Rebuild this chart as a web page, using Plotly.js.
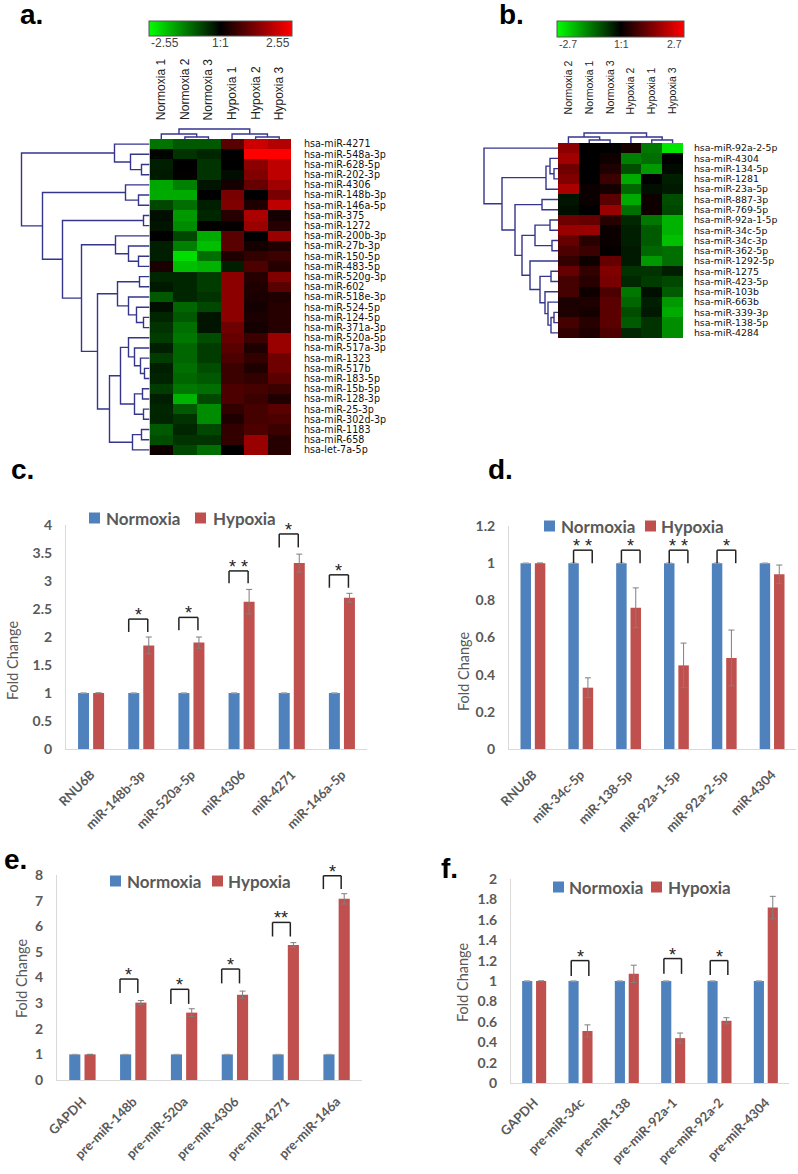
<!DOCTYPE html>
<html><head><meta charset="utf-8">
<script src="https://cdn.plot.ly/plotly-3.0.1.min.js"></script>
<style>html,body{margin:0;padding:0;background:#fff}#chart{width:798px;height:1174px}</style>
</head><body><div id="chart"></div>
<script>
const W=798,H=1174;
// ---------- Heatmap a ----------
const colsA=['Normoxia 1','Normoxia 2','Normoxia 3','Hypoxia 1','Hypoxia 2','Hypoxia 3'];
const rowsA=['hsa-miR-4271','hsa-miR-548a-3p','hsa-miR-628-5p','hsa-miR-202-3p','hsa-miR-4306','hsa-miR-148b-3p','hsa-miR-146a-5p','hsa-miR-375','hsa-miR-1272','hsa-miR-200b-3p','hsa-miR-27b-3p','hsa-miR-150-5p','hsa-miR-483-5p','hsa-miR-520g-3p','hsa-miR-602','hsa-miR-518e-3p','hsa-miR-524-5p','hsa-miR-124-5p','hsa-miR-371a-3p','hsa-miR-520a-5p','hsa-miR-517a-3p','hsa-miR-1323','hsa-miR-517b','hsa-miR-183-5p','hsa-miR-15b-5p','hsa-miR-128-3p','hsa-miR-25-3p','hsa-miR-302d-3p','hsa-miR-1183','hsa-miR-658','hsa-let-7a-5p'];
const zA=[
[-1.15,-0.89,-0.89,0.89,2.04,1.79],
[-0.05,-0.51,-0.38,0,2.55,2.55],
[-0.31,0,-0.51,0,1.4,1.91],
[-0.26,0.05,-0.51,-0.13,1.28,1.91],
[-1.66,-1.28,-0.2,0.2,1.02,1.61],
[-1.71,-1.71,0,1.2,0,1.2],
[-0.71,-1.1,-0.31,1.28,0.31,1.91],
[-0.15,-1.53,-0.38,0.38,1.71,0.2],
[-0.2,-1.4,0,0.05,1.53,0.38],
[0,-0.71,-1.71,0.89,0,1.53],
[-0.31,-1.28,-1.91,0.89,0.2,0.31],
[-0.31,-2.22,-1.1,0.31,0.51,0.59],
[0.26,-1.91,-1.79,-0.31,0.77,0.38],
[-0.38,-0.38,-0.59,1.4,0.38,1.28],
[-0.26,-0.38,-0.59,1.4,0.31,0.89],
[-0.89,-0.38,-0.51,1.4,0.26,0.31],
[-0.15,-1.02,-0.71,1.4,0.2,0.38],
[-0.38,-0.89,-0.2,1.4,0.26,0.38],
[-0.51,-1.1,-0.2,1.1,0.2,0.38],
[-0.59,-1.2,-0.77,1.02,0.59,1.53],
[-0.31,-1.02,-0.59,0.89,0.31,1.53],
[-0.59,-1.02,-0.59,0.77,0.51,1.1],
[-0.31,-1.1,-0.77,0.59,0.31,1.1],
[-0.36,-1.02,-0.89,0.59,0.51,0.89],
[-0.59,-1.2,-1.1,0.77,0.69,0.59],
[-0.31,-1.79,-0.71,0.77,0.59,0.31],
[-0.38,-0.89,-1.4,0.51,0.69,0.89],
[-0.36,-0.51,-1.4,0.31,0.69,0.77],
[-0.89,-0.38,-0.71,0.51,0.77,0.59],
[-0.77,-0.51,-0.51,0.51,1.53,0.38],
[0.15,-0.71,-1.1,0,1.53,0.38]];
const rangeA=2.55;
// dendrograms: [height, left, right]; leaves are row/column indices
const rowTreeA=[128,[35,0,[19,1,[8,2,3]]],[107,[24,4,[11,5,6]],[87,[6,7,8],[68,[34,9,[21,10,[11,11,12]]],[52,[32,[10,13,14],[21,15,[13,16,[6,17,18]]]],[40,[29,[21,19,[15,20,[9,21,[5,22,23]]]],[15,[7,24,25],[6,26,27]]],[17,[8,28,29],30]]]]]]];
const colTreeA=[10,[5,0,[2,1,2]],[5,3,[2,4,5]]];

// ---------- Heatmap b ----------
const colsB=['Normoxia 2','Normoxia 1','Normoxia 3','Hypoxia 2','Hypoxia 1','Hypoxia 3'];
const rowsB=['hsa-miR-92a-2-5p','hsa-miR-4304','hsa-miR-134-5p','hsa-miR-1281','hsa-miR-23a-5p','hsa-miR-887-3p','hsa-miR-769-5p','hsa-miR-92a-1-5p','hsa-miR-34c-5p','hsa-miR-34c-3p','hsa-miR-362-5p','hsa-miR-1292-5p','hsa-miR-1275','hsa-miR-423-5p','hsa-miR-103b','hsa-miR-663b','hsa-miR-339-3p','hsa-miR-138-5p','hsa-miR-4284'];
const zB=[
[1.49,0,0,0.22,-1.27,-2.43],
[1.7,0,0.16,-1.35,-1.16,0],
[1.16,0,0.32,-0.81,-1.62,-0.11],
[1.35,0,0.62,-1.81,0,-0.32],
[1.81,0.11,0.22,-1.08,-0.16,-0.27],
[-0.22,0.11,0.95,-1.81,0.16,-0.81],
[-0.16,0,1.62,-1.16,0.16,-0.76],
[1.16,1.08,0.41,-0.41,-1.27,-1.89],
[1.62,1.62,0.11,-0.32,-0.95,-1.89],
[1.08,0.41,0.11,-0.32,-0.95,-2.03],
[0.81,0.62,0.05,-0.27,-1.08,-1.16],
[0.54,0.16,1.08,-0.27,-1.62,-1.16],
[1.08,0.54,1.35,-0.54,-0.54,-0.32],
[0.73,0.41,1.27,-0.41,-0.62,-0.76],
[0.73,0.16,0.81,-1.27,-0.16,-0.95],
[0.27,0.32,0.95,-1.08,-0.32,-1.62],
[0.32,0.22,0.95,-0.81,-0.27,-1.81],
[0.73,0.41,0.95,-0.95,-0.54,-1.49],
[0.54,0.32,0.81,-0.41,-0.54,-1.49]];
const rangeB=2.7;
const rowTreeB=[74,0,[56,[12,[8,1,[4,2,3]],4],[43,[16,5,6],[36,[23,[8,7,8],[6,9,10]],[28,11,[18,[7,12,13],[13,14,[10,15,[7,[4,16,17],18]]]]]]]]];
const colTreeB=[10,[6,0,[3,1,2]],[6,3,[3,4,5]]];

// ---------- Bar charts ----------
const catsC=['RNU6B','miR-148b-3p','miR-520a-5p','miR-4306','miR-4271','miR-146a-5p'];
const normC=[1,1,1,1,1,1];
const hypC=[1,1.85,1.9,2.63,3.32,2.7];
const hypErrC=[0,0.15,0.1,0.22,0.16,0.08];
const sigC=[[1,2.09,2.32,2.09,'*'],[2,2.12,2.35,2.12,'*'],[3,2.96,3.18,2.96,'* *'],[4,3.6,3.84,3.6,'*'],[5,2.88,3.11,2.88,'*']];

const catsD=['RNU6B','miR-34c-5p','miR-138-5p','miR-92a-1-5p','miR-92a-2-5p','miR-4304'];
const normD=[1,1,1,1,1,1];
const hypD=[1,0.33,0.76,0.45,0.49,0.94];
const hypErrD=[0,0.053,0.107,0.12,0.15,0.05];
const sigD=[[1,1.0,1.07,1.0,'* *'],[2,1.0,1.07,1.0,'*'],[3,1.0,1.07,1.0,'* *'],[4,1.0,1.07,1.0,'*']];

const catsE=['GAPDH','pre-miR-148b','pre-miR-520a','pre-miR-4306','pre-miR-4271','pre-miR-146a'];
const normE=[1,1,1,1,1,1];
const hypE=[1,3.02,2.63,3.33,5.27,7.07];
const hypErrE=[0,0.08,0.15,0.14,0.09,0.2];
const sigE=[[1,3.4,3.94,3.4,'*'],[2,2.97,3.54,2.97,'*'],[3,3.77,4.33,3.77,'*'],[4,5.6,6.15,5.6,'**'],[5,7.45,7.97,7.45,'*']];

const catsF=['GAPDH','pre-miR-34c','pre-miR-138','pre-miR-92a-1','pre-miR-92a-2','pre-miR-4304'];
const normF=[1,1,1,1,1,1];
const hypF=[1,0.51,1.07,0.44,0.61,1.72];
const hypErrF=[0,0.06,0.085,0.05,0.03,0.11];
const sigF=[[1,1.05,1.2,1.05,'*'],[3,1.07,1.22,1.07,'*'],[4,1.06,1.2,1.06,'*']];

// ---------- helpers ----------
const dx=(a,b)=>[a/W,b/W];
const dy=(t,b)=>[1-b/H,1-t/H];
const px=p=>p/W, py=p=>1-p/H;
const BLUE='#4f81bd', RED='#c0504d', GREY='#595959', DEND='#35358e';
const CS=[[0,'rgb(0,255,0)'],[0.5,'rgb(0,0,0)'],[1,'rgb(255,0,0)']];
function dendro(tree){
  const P=[],Hh=[];
  (function walk(n){
    if(typeof n==='number') return {p:n,h:0};
    const a=walk(n[1]), b=walk(n[2]), h=n[0];
    P.push(a.p,a.p,b.p,b.p,null); Hh.push(a.h,h,h,b.h,null);
    return {p:(a.p+b.p)/2,h:h};
  })(tree);
  return {p:P,h:Hh};
}
const traces=[], shapes=[], annotations=[];
const layout={width:W,height:H,margin:{l:0,r:0,t:0,b:0},paper_bgcolor:'#fff',plot_bgcolor:'rgba(0,0,0,0)',
  showlegend:false,barmode:'group',bargap:0.4,bargroupgap:0.27,font:{family:'Liberation Sans, Arial, sans-serif'}};
const hidden={showgrid:false,zeroline:false,showline:false,showticklabels:false,ticks:'',fixedrange:true};

// heatmap a
traces.push({type:'heatmap',z:zA,x:colsA,y:rowsA,xaxis:'x',yaxis:'y',zmin:-rangeA,zmax:rangeA,colorscale:CS,hoverinfo:'skip',
  colorbar:{orientation:'h',x:px(220.5),xanchor:'center',y:py(21),yanchor:'top',len:143,lenmode:'pixels',thickness:15,thicknessmode:'pixels',
    outlinewidth:1,outlinecolor:'#555',showticklabels:false,ticks:'',xpad:0,ypad:0}});
layout.xaxis=Object.assign({},hidden,{domain:dx(149.5,291),anchor:'y',type:'category',range:[-0.5,5.5]});
layout.yaxis=Object.assign({},hidden,{domain:dy(139,455),anchor:'x',type:'category',range:[30.5,-0.5],side:'right',showticklabels:true,
  tickmode:'linear',dtick:1,tick0:0,ticks:'outside',ticklen:10,tickcolor:'rgba(0,0,0,0)',tickfont:{family:'DejaVu Sans',size:9.6,color:'#111'}});
let d=dendro(rowTreeA);
traces.push({type:'scatter',mode:'lines',x:d.h,y:d.p,xaxis:'x2',yaxis:'y2',line:{color:DEND,width:1.4},hoverinfo:'skip'});
layout.xaxis2=Object.assign({},hidden,{domain:dx(0,149.5),anchor:'y2',range:[149.5,0]});
layout.yaxis2=Object.assign({},hidden,{domain:dy(139,455),anchor:'x2',range:[30.5,-0.5]});
d=dendro(colTreeA);
traces.push({type:'scatter',mode:'lines',x:d.p,y:d.h,xaxis:'x3',yaxis:'y3',line:{color:DEND,width:1.4},hoverinfo:'skip'});
layout.xaxis3=Object.assign({},hidden,{domain:dx(149.5,291),anchor:'y3',range:[-0.5,5.5]});
layout.yaxis3=Object.assign({},hidden,{domain:dy(125,139),anchor:'x3',range:[0,14]});
colsA.forEach((c,i)=>annotations.push({xref:'x',yref:'paper',x:i,y:py(122),xanchor:'center',yanchor:'bottom',textangle:-90,text:c,showarrow:false,
  font:{family:'Liberation Sans',size:12,color:'#222'}}));
[['-2.55',149,'left'],['1:1',220,'center'],['2.55',292,'right']].forEach(t=>annotations.push({xref:'paper',yref:'paper',x:px(t[1]),y:py(43),
  xanchor:t[2],yanchor:'middle',text:t[0],showarrow:false,font:{family:'Liberation Sans',size:12,color:'#444'}}));

// heatmap b
traces.push({type:'heatmap',z:zB,x:colsB,y:rowsB,xaxis:'x4',yaxis:'y4',zmin:-rangeB,zmax:rangeB,colorscale:CS,hoverinfo:'skip',
  colorbar:{orientation:'h',x:px(620.5),xanchor:'center',y:py(21),yanchor:'top',len:127,lenmode:'pixels',thickness:16,thicknessmode:'pixels',
    outlinewidth:1,outlinecolor:'#555',showticklabels:false,ticks:'',xpad:0,ypad:0}});
layout.xaxis4=Object.assign({},hidden,{domain:dx(558,683),anchor:'y4',type:'category',range:[-0.5,5.5]});
layout.yaxis4=Object.assign({},hidden,{domain:dy(143,338),anchor:'x4',type:'category',range:[18.5,-0.5],side:'right',showticklabels:true,
  tickmode:'linear',dtick:1,tick0:0,ticks:'outside',ticklen:8,tickcolor:'rgba(0,0,0,0)',tickfont:{family:'DejaVu Sans',size:9.4,color:'#111'}});
d=dendro(rowTreeB);
traces.push({type:'scatter',mode:'lines',x:d.h,y:d.p,xaxis:'x5',yaxis:'y5',line:{color:DEND,width:1.4},hoverinfo:'skip'});
layout.xaxis5=Object.assign({},hidden,{domain:dx(470,558),anchor:'y5',range:[88,0]});
layout.yaxis5=Object.assign({},hidden,{domain:dy(143,338),anchor:'x5',range:[18.5,-0.5]});
d=dendro(colTreeB);
traces.push({type:'scatter',mode:'lines',x:d.p,y:d.h,xaxis:'x6',yaxis:'y6',line:{color:DEND,width:1.4},hoverinfo:'skip'});
layout.xaxis6=Object.assign({},hidden,{domain:dx(558,683),anchor:'y6',range:[-0.5,5.5]});
layout.yaxis6=Object.assign({},hidden,{domain:dy(129,143),anchor:'x6',range:[0,14]});
colsB.forEach((c,i)=>annotations.push({xref:'x4',yref:'paper',x:i,y:py(116),xanchor:'center',yanchor:'bottom',textangle:-90,text:c,showarrow:false,
  font:{family:'Liberation Sans',size:10.5,color:'#222'}}));
[['-2.7',557,'left'],['1:1',621,'center'],['2.7',684,'right']].forEach(t=>annotations.push({xref:'paper',yref:'paper',x:px(t[1]),y:py(44),
  xanchor:t[2],yanchor:'middle',text:t[0],showarrow:false,font:{family:'Liberation Sans',size:10.5,color:'#444'}}));

// bar panels
function barPanel(n,cats,norm,hyp,hypErr,sig,xd,yd,range,dtick,off,leg,title,tl){
  const xa='x'+n, ya='y'+n;
  traces.push({type:'bar',name:'Normoxia',x:cats,y:norm,xaxis:xa,yaxis:ya,marker:{color:BLUE},hoverinfo:'skip',
    error_y:{type:'data',array:norm.map(()=>0),color:'#a0a0a0',thickness:1,width:3}});
  traces.push({type:'bar',name:'Hypoxia',x:cats,y:hyp,xaxis:xa,yaxis:ya,marker:{color:RED},hoverinfo:'skip',
    error_y:{type:'data',array:hypErr,color:'#7f7f7f',thickness:1,width:3}});
  layout['xaxis'+n]={domain:dx(xd[0],xd[1]),anchor:ya,type:'category',showline:true,linecolor:'#d9d9d9',linewidth:1,showgrid:false,
    tickangle:-45,ticks:'outside',ticklen:tl,tickcolor:'rgba(0,0,0,0)',fixedrange:true,
    tickfont:{family:'Lato',size:13,color:GREY,weight:'bold'}};
  layout['yaxis'+n]={domain:dy(yd[0],yd[1]),anchor:xa,range:range,dtick:dtick,showline:true,linecolor:'#d9d9d9',linewidth:1,
    showgrid:false,zeroline:false,ticks:'outside',ticklen:10,tickcolor:'rgba(0,0,0,0)',fixedrange:true,
    tickfont:{family:'Lato',size:14,color:GREY,weight:'bold'}};
  sig.forEach(s=>{
    const xl=s[0]+off[0], xr=s[0]+off[1];
    const ln={type:'line',xref:xa,yref:ya,line:{color:'#222',width:1.5}};
    shapes.push(Object.assign({},ln,{x0:xl,x1:xl,y0:s[1],y1:s[2]}));
    shapes.push(Object.assign({},ln,{x0:xl,x1:xr,y0:s[2],y1:s[2]}));
    shapes.push(Object.assign({},ln,{x0:xr,x1:xr,y0:s[2],y1:s[3]}));
    annotations.push({xref:xa,yref:ya,x:(xl+xr)/2,y:s[2],xanchor:'center',yanchor:'bottom',yshift:-8,text:s[4],showarrow:false,
      font:{family:'Liberation Sans',size:18,color:'#222'}});
  });
  // legend keys
  const yc=leg[4];
  shapes.push({type:'rect',xref:'paper',yref:'paper',x0:px(leg[0]),x1:px(leg[0]+11),y0:py(yc+5.5),y1:py(yc-5.5),fillcolor:BLUE,line:{width:0}});
  shapes.push({type:'rect',xref:'paper',yref:'paper',x0:px(leg[2]),x1:px(leg[2]+11),y0:py(yc+5.5),y1:py(yc-5.5),fillcolor:RED,line:{width:0}});
  annotations.push({xref:'paper',yref:'paper',x:px(leg[1]),y:py(yc),xanchor:'left',yanchor:'middle',text:'Normoxia',showarrow:false,
    font:{family:'Lato',size:17,color:GREY,weight:'bold'}});
  annotations.push({xref:'paper',yref:'paper',x:px(leg[3]),y:py(yc),xanchor:'left',yanchor:'middle',text:'Hypoxia',showarrow:false,
    font:{family:'Lato',size:17,color:GREY,weight:'bold'}});
  annotations.push({xref:'paper',yref:'paper',x:px(title[0]),y:py(title[1]),xanchor:'center',yanchor:'middle',textangle:-90,text:'Fold Change',
    showarrow:false,font:{family:'Lato',size:14.5,color:GREY}});
}
barPanel(7,catsC,normC,hypC,hypErrC,sigC,[66,367],[525,749],[0,4],0.5,[-0.25,0.13],[89,104,195,211,518],[12,660],12);
barPanel(8,catsD,normD,hypD,hypErrD,sigD,[509,796],[526,749],[0,1.2],0.2,[-0.15,0.24],[544,559,645,659,526],[464,671],12);
barPanel(9,catsE,normE,hypE,hypErrE,sigE,[57,362],[875,1080],[0,8],1,[-0.26,0.09],[110,125,212,226,881],[21,978],8);
barPanel(10,catsF,normF,hypF,hypErrF,sigF,[511,789],[879,1083],[0,2],0.2,[-0.2,0.18],[553,567,651,666,887],[462,982],6);

// panel letters
[['a.',18,-3],['b.',497,-3],['c.',9,452],['d.',486,452],['e.',2,842],['f.',439,851]].forEach(t=>annotations.push({xref:'paper',yref:'paper',
  x:px(t[1]),y:py(t[2]),xanchor:'left',yanchor:'top',text:t[0],showarrow:false,font:{family:'Liberation Sans',size:28,color:'#000',weight:'bold'}}));

layout.shapes=shapes; layout.annotations=annotations;
Plotly.newPlot('chart',traces,layout,{staticPlot:true});
</script></body></html>
